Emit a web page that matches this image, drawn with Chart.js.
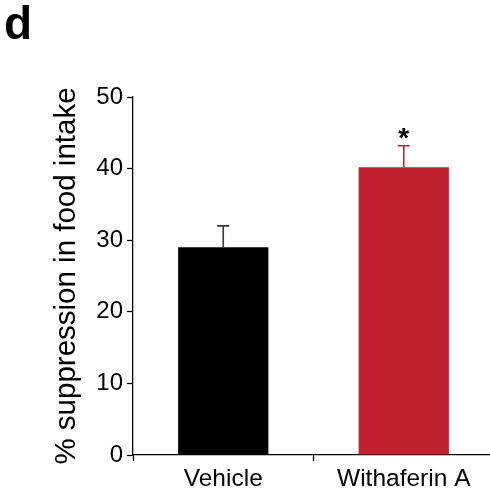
<!DOCTYPE html>
<html>
<head>
<meta charset="utf-8">
<script src="https://cdn.jsdelivr.net/npm/chart.js@4/dist/chart.umd.min.js"></script>
<style>
  html, body { margin: 0; padding: 0; background: #fff; overflow: hidden; }
  #wrap { position: relative; width: 490px; height: 492px; overflow: hidden; }
  #panel { position: absolute; left: 4px; top: -4px; font: bold 46px "Liberation Sans", Arial, sans-serif; color: #000; }
  canvas { position: absolute; left: 0; top: 0; }
</style>
</head>
<body>
<div id="wrap">
  <canvas id="chart" width="494" height="492"></canvas>
  <div id="panel">d</div>
</div>
<script>
// Food intake suppression by treatment group (mean ± SEM)
const categories = ['Vehicle', 'Withaferin A'];
const meanSuppression = [29.0, 40.2];
const semSuppression = [3.0, 3.0];
const significance = ['', '*'];
const barColors = ['#000000', '#bf1f2f'];
const errorColors = ['#3a3a3a', '#bf1f2f'];
const yTicks = [0, 10, 20, 30, 40, 50];

const FONT = '"Liberation Sans", Arial, sans-serif';

// Draws SEM whiskers and significance marks above each bar
const errorBarPlugin = {
  id: 'errorBars',
  afterDatasetsDraw(chart) {
    const ctx = chart.ctx;
    const meta = chart.getDatasetMeta(0);
    const y = chart.scales.y;
    ctx.save();
    meta.data.forEach((bar, i) => {
      const top = y.getPixelForValue(meanSuppression[i]);
      const tip = y.getPixelForValue(meanSuppression[i] + semSuppression[i]);
      ctx.strokeStyle = errorColors[i];
      ctx.lineWidth = 1.6;
      ctx.beginPath();
      ctx.moveTo(bar.x, top);
      ctx.lineTo(bar.x, tip);
      ctx.moveTo(bar.x - 6, tip);
      ctx.lineTo(bar.x + 6, tip);
      ctx.stroke();
      if (significance[i]) {
        ctx.fillStyle = '#000';
        ctx.font = 'bold 28px ' + FONT;
        ctx.textAlign = 'center';
        ctx.textBaseline = 'alphabetic';
        ctx.fillText(significance[i], bar.x, tip + 1);
      }
    });
    ctx.restore();
  }
};

new Chart(document.getElementById('chart'), {
  type: 'bar',
  data: {
    labels: categories,
    datasets: [{
      data: meanSuppression,
      backgroundColor: barColors,
      borderWidth: 0,
      categoryPercentage: 1.0,
      barPercentage: 0.5
    }]
  },
  options: {
    responsive: false,
    animation: false,
    events: [],
    layout: { padding: { top: 97, right: 0, bottom: 0, left: 0 } },
    plugins: { legend: { display: false }, tooltip: { enabled: false } },
    scales: {
      x: {
        offset: true,
        grid: {
          offset: true,
          drawOnChartArea: false,
          drawTicks: true,
          tickLength: 6,
          tickWidth: 1.3,
          color: '#000'
        },
        border: { display: true, color: '#000', width: 1.3 },
        ticks: {
          color: '#000',
          font: { family: FONT, size: 24.5 },
          padding: 4,
          maxRotation: 0
        },
        afterFit(scale) { scale.height = 37; }
      },
      y: {
        min: 0,
        max: 50,
        afterBuildTicks(scale) { scale.ticks = yTicks.map(v => ({ value: v })); },
        grid: {
          drawOnChartArea: false,
          drawTicks: true,
          tickLength: 6,
          tickWidth: 1.3,
          color: '#000'
        },
        border: { display: true, color: '#000', width: 1.3 },
        ticks: {
          color: '#000',
          font: { family: FONT, size: 24 },
          padding: 4
        },
        title: {
          display: true,
          text: '% suppression in food intake',
          color: '#000',
          font: { family: FONT, size: 29.5 },
          padding: { top: 49, bottom: 0 }
        },
        afterFit(scale) { scale.width = 133; }
      }
    }
  },
  plugins: [errorBarPlugin]
});
</script>
</body>
</html>
